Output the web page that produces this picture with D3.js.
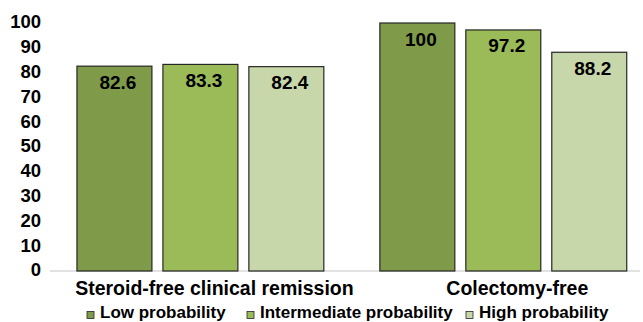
<!DOCTYPE html>
<html>
<head>
<meta charset="utf-8">
<script src="https://cdn.jsdelivr.net/npm/d3@7"></script>
<style>
  html, body { margin: 0; padding: 0; background: #fff; }
  svg text { font-family: Arial, "Liberation Sans", sans-serif; font-weight: bold; fill: #000; }
</style>
</head>
<body>
<svg id="chart" width="643" height="322"></svg>
<script>
// Outcome categories and probability groups
const categories = ["Steroid-free clinical remission", "Colectomy-free"];
const seriesNames = ["Low probability", "Intermediate probability", "High probability"];
const lowValues = [82.6, 100];
const intermediateValues = [83.3, 97.2];
const highValues = [82.4, 88.2];
const yTicks = [0, 10, 20, 30, 40, 50, 60, 70, 80, 90, 100];
const seriesColors = ["#7f9b49", "#9bbb59", "#c8d7aa"];

const seriesValues = [lowValues, intermediateValues, highValues];

const svg = d3.select("#chart");

const y = d3.scaleLinear().domain([0, 100]).range([271, 23]);

const x0 = d3.scaleBand()
  .domain(categories)
  .range([49.7, 654])
  .paddingInner(0.185)
  .paddingOuter(0.09);

const x1 = d3.scaleBand()
  .domain(seriesNames)
  .range([0, x0.bandwidth()])
  .paddingInner(0.128)
  .paddingOuter(0);

// Category axis baseline
svg.append("line")
  .attr("x1", 50).attr("x2", 640)
  .attr("y1", y(0)).attr("y2", y(0))
  .attr("stroke", "#d9d9d9").attr("stroke-width", 1.5);

// Value axis labels (no line, no tick marks)
const yAxis = d3.axisLeft(y).tickValues(yTicks).tickSize(0).tickPadding(0);
const yAxisG = svg.append("g").attr("transform", "translate(41,-1)").call(yAxis);
yAxisG.select(".domain").remove();
yAxisG.selectAll("text")
  .style("font-family", "Arial, 'Liberation Sans', sans-serif")
  .style("font-weight", "bold")
  .style("font-size", "18.5px")
  .attr("fill", "#000");

// Bars
const groups = svg.selectAll("g.cat")
  .data(categories)
  .join("g")
  .attr("class", "cat")
  .attr("transform", d => `translate(${x0(d)},0)`);

groups.each(function(cat, ci) {
  const g = d3.select(this);
  seriesNames.forEach((s, si) => {
    const v = seriesValues[si][ci];
    g.append("rect")
      .attr("x", x1(s))
      .attr("y", y(v))
      .attr("width", x1.bandwidth())
      .attr("height", y(0) - y(v))
      .attr("fill", seriesColors[si])
      .attr("stroke", "#262626")
      .attr("stroke-width", 1.2);
    g.append("text")
      .attr("x", x1(s) + x1.bandwidth() / 2 + 3.5)
      .attr("y", y(v) + 22.5)
      .attr("text-anchor", "middle")
      .style("font-size", "19px")
      .text(v);
  });
});

// Category labels
svg.selectAll("text.catlabel")
  .data(categories)
  .join("text")
  .attr("class", "catlabel")
  .attr("x", d => x0(d) + x0.bandwidth() / 2 + 14)
  .attr("y", 294.5)
  .attr("text-anchor", "middle")
  .style("font-size", "19.5px")
  .text(d => d);

// Legend
const legendX = [87, 247, 466];
const legend = svg.selectAll("g.legend")
  .data(seriesNames)
  .join("g")
  .attr("class", "legend")
  .attr("transform", (d, i) => `translate(${legendX[i]},0)`);

legend.append("rect")
  .attr("x", 0).attr("y", 311.5)
  .attr("width", 7).attr("height", 7)
  .attr("fill", (d, i) => seriesColors[i])
  .attr("stroke", "#262626")
  .attr("stroke-width", 0.8);

legend.append("text")
  .attr("x", 13)
  .attr("y", 318)
  .style("font-size", "17px")
  .text(d => d);
</script>
</body>
</html>
